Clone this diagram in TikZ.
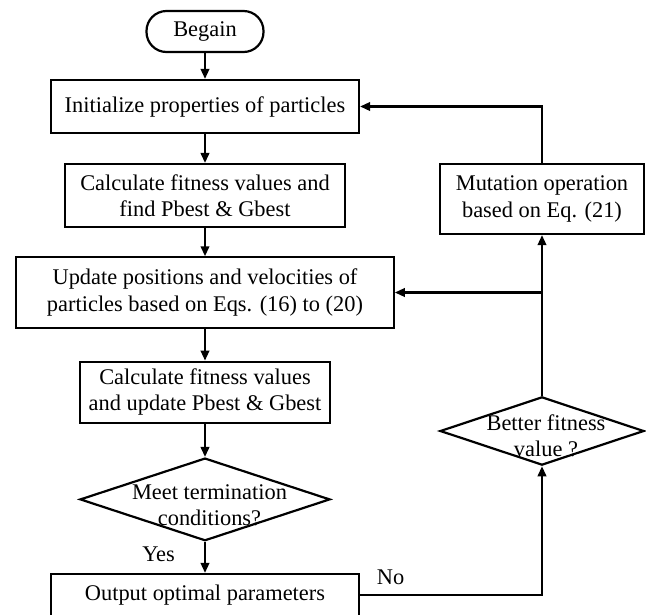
\documentclass[tikz,border=0pt]{standalone}
\usepackage{fontspec}
\setmainfont{Liberation Serif}
\usetikzlibrary{shapes.geometric,arrows.meta}
\newcommand\flowfont{\fontsize{22.4}{26.3}\selectfont}
\begin{document}
\begin{tikzpicture}[x=1pt,y=1pt,
  box/.style={draw,line width=2.2pt,inner sep=0pt,align=center,font=\flowfont},
  pill/.style={box,rounded corners=20pt},
  decision/.style={draw,diamond,line width=2.2pt,inner sep=0pt},
  txt/.style={inner sep=0pt,align=center,font=\flowfont},
  arrow/.style={line width=2.2pt,-{Triangle[length=10pt,width=8.5pt]}}
]
\clip (0,0) rectangle (646,-614);
\useasboundingbox (0,0) rectangle (646,-614);
\node[pill,minimum width=117pt,minimum height=41pt] (begin) at (205,-31.5) {Begain};
\node[box,minimum width=308pt,minimum height=53pt] (init) at (205,-106.5) {Initialize properties of particles};
\node[box,minimum width=279.5pt,minimum height=62.7pt] (calc1) at (205,-195.4) {Calculate fitness values and\\find Pbest \& Gbest};
\node[box,minimum width=377.5pt,minimum height=70.3pt] (update) at (205,-292.5) {Update positions and velocities of\\particles based on Eqs. (16) to (20)};
\node[box,minimum width=250pt,minimum height=61pt] (calc2) at (205,-392.2) {Calculate fitness values\\and update Pbest \& Gbest};
\node[decision,minimum width=250pt,minimum height=82.7pt] (meet) at (205,-499.4) {};
\node[txt] (meettxt) at (209.5,-505) {Meet termination\\conditions?};
\node[box,minimum width=307.3pt,minimum height=42pt] (output) at (205,-595) {Output optimal parameters};
\node[box,minimum width=204pt,minimum height=70pt] (mutation) at (542,-199) {Mutation operation\\based on Eq. (21)};
\node[decision,minimum width=204pt,minimum height=68.3pt] (better) at (542,-431) {};
\node[txt] (bettertxt) at (546,-436) {Better fitness\\value ?};
\node[txt] (yes) at (158.6,-554) {Yes};
\node[txt] (no) at (390.6,-577) {No};

\draw[arrow] (begin.south) -- (init.north);
\draw[arrow] (init.south) -- (calc1.north);
\draw[arrow] (calc1.south) -- (update.north);
\draw[arrow] (update.south) -- (calc2.north);
\draw[arrow] (calc2.south) -- (meet.north);
\draw[arrow] (meet.south) -- (output.north);
\draw[arrow] (output.east) -| (better.south);
\draw[arrow] (better.north) -- (mutation.south);
\coordinate (branch) at (better.north |- update.east);
\draw[arrow] (branch) -- (update.east);
\draw[arrow] (mutation.north) |- (init.east);
\end{tikzpicture}
\end{document}
